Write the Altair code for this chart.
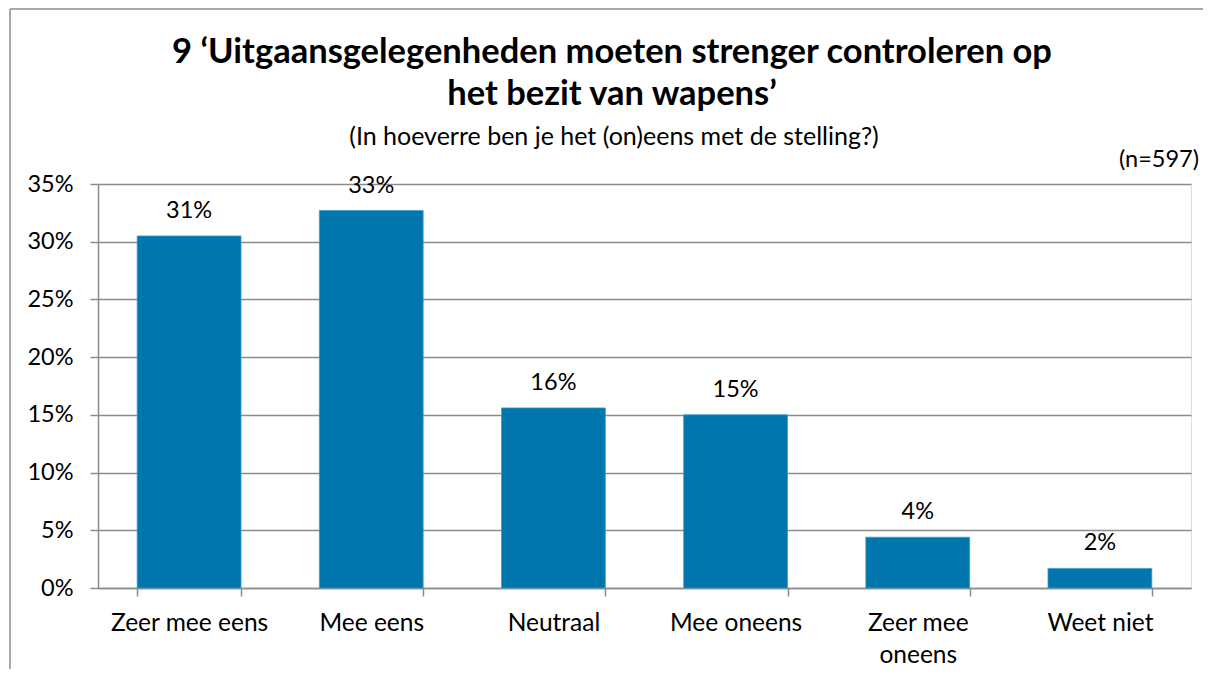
import altair as alt
import pandas as pd

categories = ["Zeer mee eens", "Mee eens", "Neutraal", "Mee oneens", "Zeer mee oneens", "Weet niet"]
values = [30.5, 32.7, 15.6, 15.0, 4.4, 1.7]
labels = ["31%", "33%", "16%", "15%", "4%", "2%"]

title_lines = ["9 \u2018Uitgaansgelegenheden moeten strenger controleren op", "het bezit van wapens\u2019"]
subtitle = "(In hoeverre ben je het (on)eens met de stelling?)"
n_note = "(n=597)"

df = pd.DataFrame({"cat": categories, "val": values, "lab": labels})

FONT = "Lato"
FS = 23.5
GRID = "#8c8c8c"
BAR = "#0076ad"

x_enc = alt.X(
    "cat:N", sort=categories, title=None,
    scale=alt.Scale(paddingInner=0.43, paddingOuter=0.215),
    axis=alt.Axis(
        labelAngle=0, labelFontSize=24.5, labelFont=FONT, labelColor="#000000",
        labelPadding=15, labelLineHeight=32,
        labelExpr="datum.label == 'Zeer mee oneens' ? ['Zeer mee', 'oneens'] : datum.label",
        tickBand="extent", tickSize=8, tickColor=GRID, tickWidth=1.5,
        domainColor=GRID, domainWidth=1.5, grid=False,
    ),
)
y_enc = alt.Y(
    "val:Q", title=None,
    scale=alt.Scale(domain=[0, 35], nice=False),
    axis=alt.Axis(
        values=[0, 5, 10, 15, 20, 25, 30, 35],
        labelExpr="datum.value + '%'",
        labelFontSize=FS, labelFont=FONT, labelColor="#000000", labelPadding=17,
        tickSize=8, tickColor=GRID, tickWidth=1.5,
        domainColor=GRID, domainWidth=1.5,
        grid=True, gridColor=GRID, gridWidth=1.5,
    ),
)

bars = alt.Chart(df).mark_bar(color=BAR, stroke="#3d9bd0", strokeWidth=0.8).encode(x=x_enc, y=y_enc)
texts = alt.Chart(df).mark_text(
    baseline="alphabetic", dy=-18, fontSize=FS, font=FONT, color="#000000"
).encode(x=alt.X("cat:N", sort=categories), y="val:Q", text="lab:N")

titles_df = pd.DataFrame({
    "t": [title_lines[0], title_lines[1]],
    "yy": [-121, -79],
})
title_marks = alt.Chart(titles_df).mark_text(
    align="center", baseline="alphabetic", fontSize=34.5, font=FONT, fontWeight="bold", color="#000000"
).encode(x=alt.value(514), y=alt.Y("yy:Q", scale=None), text="t:N")

sub_mark = alt.Chart(pd.DataFrame({"t": [subtitle]})).mark_text(
    align="center", baseline="alphabetic", fontSize=25, font=FONT, color="#000000"
).encode(x=alt.value(516), y=alt.value(-39), text="t:N")

note = alt.Chart(pd.DataFrame({"t": [n_note]})).mark_text(
    align="right", baseline="alphabetic", fontSize=FS, font=FONT, color="#000000"
).encode(x=alt.value(1101), y=alt.value(-17), text="t:N")

border_top = alt.Chart(pd.DataFrame({"a": [0]})).mark_rule(
    stroke="#8c8c8c", strokeWidth=1.5
).encode(x=alt.value(-88), x2=alt.value(1105), y=alt.value(-175))
border_left = alt.Chart(pd.DataFrame({"a": [0]})).mark_rule(
    stroke="#8c8c8c", strokeWidth=1.5
).encode(x=alt.value(-88), y=alt.value(-175), y2=alt.value(490))

chart = alt.layer(border_top, border_left, bars, texts, title_marks, sub_mark, note).properties(
    width=1093, height=404,
    autosize=alt.AutoSizeParams(type="none"),
    padding={"left": 90, "top": 176, "right": 12, "bottom": 81},
).configure_view(stroke=None).configure(background="white")

chart.save("out.html", embed_options={"renderer": "svg", "actions": False})
